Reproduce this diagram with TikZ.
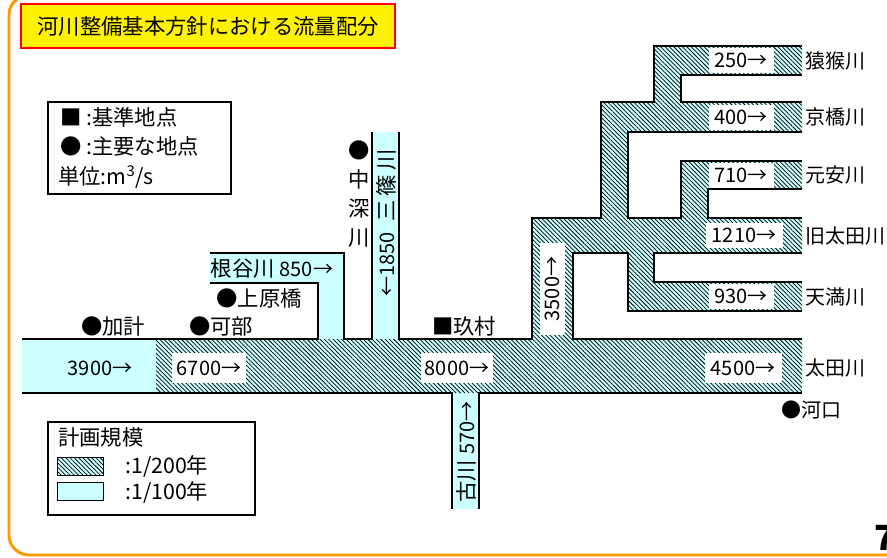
\documentclass[tikz,border=0pt]{standalone}
\usepackage{fontspec}
\setmainfont{Noto Sans CJK JP}
\usetikzlibrary{patterns.meta}
\definecolor{mizu}{HTML}{CCFFFF}
\definecolor{waku}{HTML}{FF9900}

\begin{document}
\begin{tikzpicture}[
    x=0.75pt, y=-0.75pt,
    font=\fontsize{16pt}{19pt}\selectfont,
    every node/.style={inner sep=0pt},
    kishi/.style={line width=1.6pt, line join=miter},
    keikaku200/.style={fill=mizu, postaction={pattern={Lines[angle=-45,distance=2.3pt,line width=0.55pt]}}},
    keikaku100/.style={fill=mizu},
    suji/.style={font=\fontsize{15pt}{18pt}\selectfont},
    ryuryo/.style={suji, fill=white, minimum height=18.75pt},
    honryu/.style={suji, fill=white, minimum height=22.5pt},
    kawa/.style={suji, anchor=west},
    hanrei/.style={draw, line width=0.8pt}
  ]
    \useasboundingbox (0,0) rectangle (887,557);

    % 外枠
    \draw[waku, line width=2.2pt, rounded corners=15pt] (9,-5) rectangle (905,555);

    % 表題
    \node[draw=red, fill=yellow, line width=1.5pt, minimum width=280pt, minimum height=33pt] (hyodai) at (208,26) {河川整備基本方針における流量配分};

    % 流路（1/100年）
    \path[keikaku100] (22,339) rectangle (160,393)
      (210,253) rectangle (344,283) (317,280) rectangle (344,345)
      (372,132) rectangle (399,345)
      (452,388) rectangle (479,509);

    % 流路（1/200年）
    \path[keikaku200] (156,339) rectangle (802,393)
      (532,218) rectangle (573,345) (532,218) rectangle (802,253)
      (601,102) rectangle (628,225) (601,102) rectangle (802,132)
      (654,46) rectangle (681,108) (654,46) rectangle (802,75)
      (681,161) rectangle (708,225) (681,161) rectangle (802,189)
      (628,248) rectangle (654,311) (628,282) rectangle (802,311);

    % 河岸
    \draw[kishi] (22,339) -- (318,339) -- (318,283) -- (210,283);
    \draw[kishi] (210,253) -- (344,253) -- (344,339) -- (372,339) -- (372,132);
    \draw[kishi] (399,132) -- (399,339) -- (532,339) -- (532,218) -- (601,218) -- (601,102) -- (654,102) -- (654,46) -- (802,46);
    \draw[kishi] (802,75) -- (681,75) -- (681,102) -- (802,102);
    \draw[kishi] (802,132) -- (628,132) -- (628,218) -- (681,218) -- (681,161) -- (802,161);
    \draw[kishi] (802,189) -- (708,189) -- (708,218) -- (802,218);
    \draw[kishi] (802,253) -- (654,253) -- (654,282) -- (802,282);
    \draw[kishi] (802,311) -- (628,311) -- (628,253) -- (573,253) -- (573,339) -- (802,339);
    \draw[kishi] (22,393) -- (452,393) -- (452,509);
    \draw[kishi] (479,509) -- (479,393) -- (802,393);

    % 流量
    \node[suji] (q3900) at (100,368) {3900→};
    \node[honryu, minimum width=55.5pt] (q6700) at (209,368) {6700→};
    \node[honryu, minimum width=54pt] (q8000) at (457,368) {8000→};
    \node[honryu, minimum width=57.75pt] (q4500) at (743,368) {4500→};
    \node[ryuryo, rotate=90, minimum width=69pt, minimum height=18.75pt] (q3500) at (552,289) {3500→};
    \node[ryuryo, minimum width=48.75pt] (q250) at (741,60.5) {250→};
    \node[ryuryo, minimum width=48.75pt] (q400) at (741,117) {400→};
    \node[ryuryo, minimum width=48.75pt] (q710) at (741,175) {710→};
    \node[ryuryo, minimum width=57.75pt] (q1210) at (744,235.5) {1210→};
    \node[ryuryo, minimum width=48.75pt] (q930) at (741,296.5) {930→};
    \node (neya) at (272,268) {根谷川 {\fontsize{15pt}{18pt}\selectfont 850→}};
    \node[rotate=90] (misasa) at (386,223) {{\fontsize{15pt}{18pt}\selectfont ←1850}\hspace{0.5em}三\hspace{0.2em}篠\hspace{0.2em}川};
    \node[rotate=90] (furu) at (466,452) {古川 {\fontsize{15pt}{18pt}\selectfont 570→}};

    % 河川名
    \node[kawa] (enko) at (805,60.5) {猿猴川};
    \node[kawa] (kyobashi) at (805,117) {京橋川};
    \node[kawa] (motoyasu) at (805,175) {元安川};
    \node[kawa] (kyuota) at (805,235.5) {旧太田川};
    \node[kawa] (temma) at (805,296.5) {天満川};
    \node[kawa] (ota) at (805,368) {太田川};

    % 地点
    \node (kake) at (113,326) {●加計};
    \node (kabe) at (221,326) {●可部};
    \node (kamihara) at (259,298) {●上原橋};
    \node (kumura) at (464,326) {■玖村};
    \node[suji] (kako) at (811,410) {●河口};
    \node[align=center, font=\fontsize{16pt}{21.75pt}\selectfont] (nakafuka) at (359,194) {●\\中\\深\\川};

    % 凡例
    \draw[hanrei] (48,102) rectangle (231,194);
    \node[anchor=west] (kijun) at (60,117) {■ :基準地点};
    \node[anchor=west] (shuyo) at (60,146) {● :主要な地点};
    \node[anchor=west] (tani) at (58,177) {単位:m\textsuperscript{3}/s};

    \draw[hanrei] (48,422) rectangle (255,515);
    \node[anchor=west] (kibo) at (58,437) {計画規模};
    \node[keikaku200, draw, line width=0.6pt, minimum width=34.5pt, minimum height=13.5pt] (rei200) at (80,466) {};
    \node[keikaku100, draw, line width=0.6pt, minimum width=34.5pt, minimum height=14pt] (rei100) at (80,491.5) {};
    \node[anchor=west] (t200) at (125,466) {:1/200年};
    \node[anchor=west] (t100) at (125,492) {:1/100年};

    % 頁
    \node[anchor=base west, font=\fontsize{26pt}{30pt}\selectfont\bfseries] (peji) at (874,550) {7};
  \end{tikzpicture}
\end{document}
